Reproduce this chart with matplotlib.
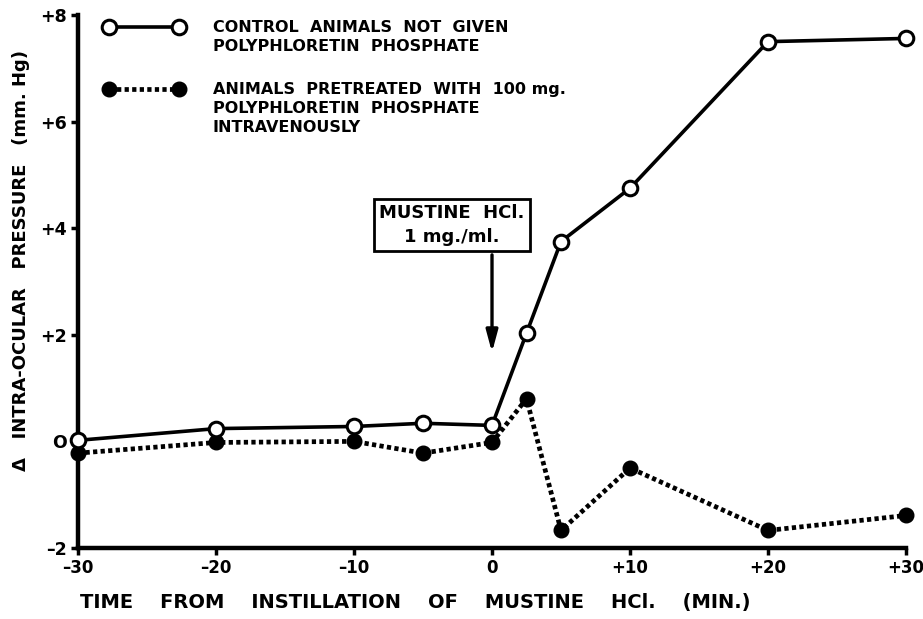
import matplotlib.pyplot as plt
from matplotlib.lines import Line2D

# time (min) relative to mustine instillation
time_min = [-30, -20, -10, -5, 0, 2.5, 5, 10, 20, 30]
control = [0.02, 0.24, 0.28, 0.34, 0.30, 2.03, 3.75, 4.75, 7.50, 7.56]
pretreated = [-0.22, -0.02, 0.0, -0.22, -0.02, 0.80, -1.67, -0.50, -1.67, -1.39]

x_ticks = [-30, -20, -10, 0, 10, 20, 30]
x_labels = ['–30', '–20', '–10', '0', '+10', '+20', '+30']
y_ticks = [-2, 0, 2, 4, 6, 8]
y_labels = ['–2', 'O', '+2', '+4', '+6', '+8']

control_label = 'CONTROL  ANIMALS  NOT  GIVEN\nPOLYPHLORETIN  PHOSPHATE'
pretreated_label = ('ANIMALS  PRETREATED  WITH  100 mg.\n'
                    'POLYPHLORETIN  PHOSPHATE\nINTRAVENOUSLY')

plt.rcParams['font.family'] = 'DejaVu Sans'
plt.rcParams['font.weight'] = 'bold'
plt.rcParams['axes.labelweight'] = 'bold'

fig = plt.figure(figsize=(9.23, 6.19), dpi=100)
ax = fig.add_axes([0.0845, 0.1147, 0.8971, 0.8611])

dots = (0, (0.9, 0.7))
ax.plot(time_min, pretreated, color='black', lw=3.4, linestyle=dots,
        marker='o', ms=10.5, mfc='black', mec='black', clip_on=False, zorder=3)
ax.plot(time_min, control, color='black', lw=2.6, linestyle='-',
        marker='o', ms=10.5, mfc='white', mec='black', mew=2.2, clip_on=False, zorder=4)

ax.set_xlim(-30, 30)
ax.set_ylim(-2, 8)
ax.set_xticks(x_ticks)
ax.set_xticklabels(x_labels, fontsize=12)
ax.set_yticks(y_ticks)
ax.set_yticklabels(y_labels, fontsize=12.5)
ax.tick_params(axis='both', direction='out', length=5, width=2.5, pad=3)

for side in ['top', 'right']:
    ax.spines[side].set_visible(False)
for side in ['left', 'bottom']:
    ax.spines[side].set_linewidth(3.2)

ax.set_xlabel('TIME    FROM    INSTILLATION    OF    MUSTINE    HCl.    (MIN.)', fontsize=14)
ax.xaxis.set_label_coords(0.407, -0.085)
ax.set_ylabel('Δ   INTRA-OCULAR   PRESSURE   (mm. Hg)', fontsize=13)
ax.yaxis.set_label_coords(-0.058, 0.54)

# injection annotation: box, then a vertical arrow at t = 0
ax.text(-2.9, 4.06, 'MUSTINE  HCl.\n1 mg./ml.', ha='center', va='center',
        fontsize=13, linespacing=1.4,
        bbox=dict(boxstyle='square,pad=0.3', fc='white', ec='black', lw=2))
ax.annotate('', xy=(0, 1.67), xytext=(0, 3.5),
            arrowprops=dict(arrowstyle='-|>,head_length=1.3,head_width=0.35',
                            color='black', lw=2.4, shrinkA=0, shrinkB=0))

# hand-built legend (marker swatch aligned with first text line)
ax.add_line(Line2D([0.038, 0.122], [0.978, 0.978], transform=ax.transAxes,
                   color='black', lw=2.6, marker='o', ms=10.5, mfc='white',
                   mec='black', mew=2.2, clip_on=False))
ax.text(0.163, 0.991, control_label, transform=ax.transAxes, fontsize=11.5,
        va='top', ha='left', linespacing=1.35)
ax.add_line(Line2D([0.038, 0.122], [0.862, 0.862], transform=ax.transAxes,
                   color='black', lw=3.4, linestyle=dots, marker='o',
                   ms=10.5, mfc='black', mec='black', clip_on=False))
ax.text(0.163, 0.875, pretreated_label, transform=ax.transAxes, fontsize=11.5,
        va='top', ha='left', linespacing=1.35)

fig.savefig('out.png', dpi=100)
